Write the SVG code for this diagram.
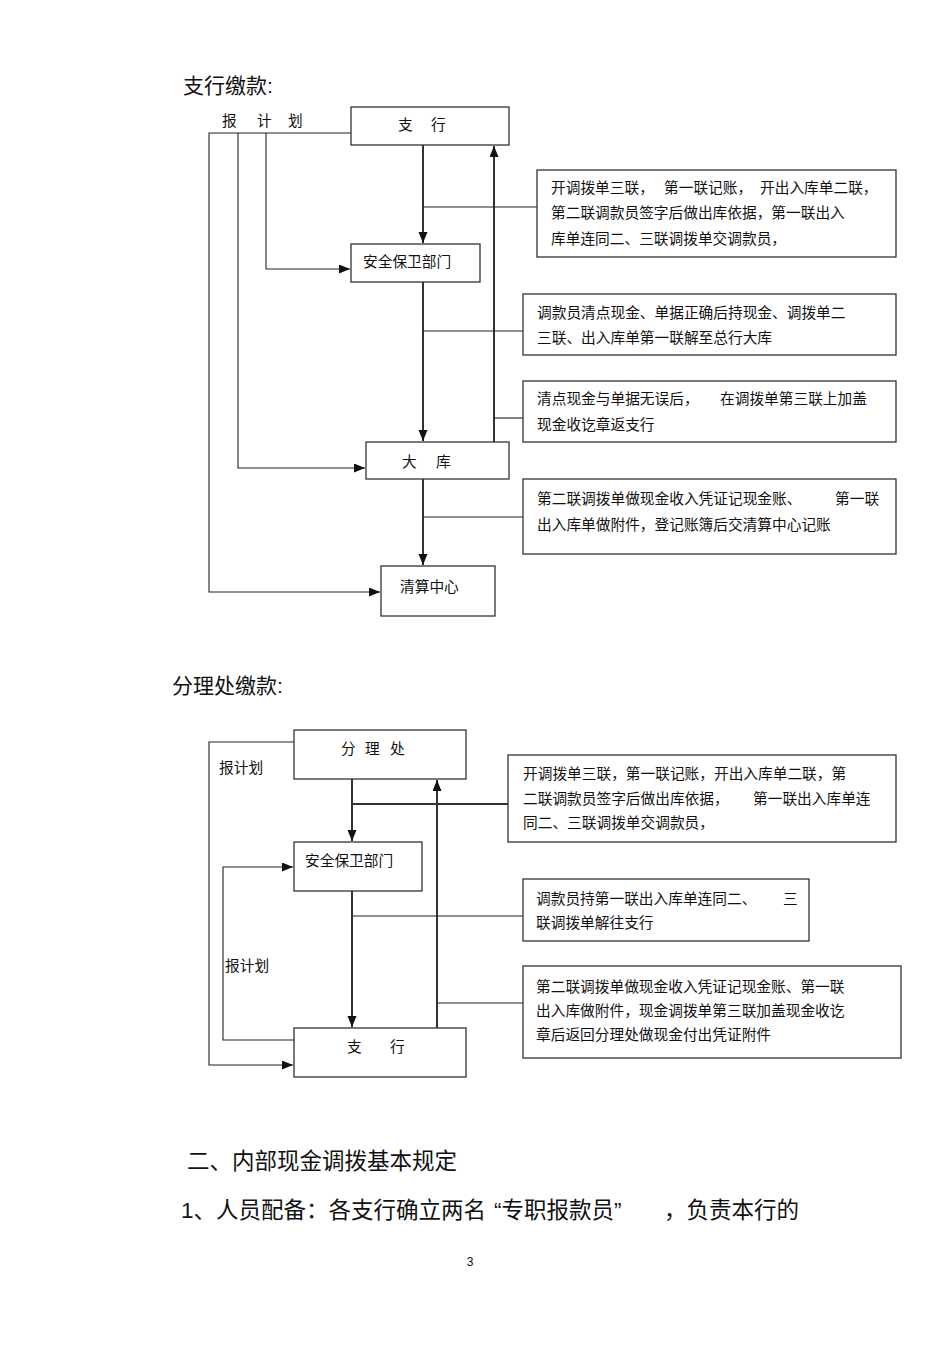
<svg xmlns="http://www.w3.org/2000/svg" width="950" height="1345" viewBox="0 0 950 1345">
<defs>
<style>
text{font-family:"Liberation Sans","Noto Sans CJK SC",sans-serif;fill:#111;}
.t{font-size:14.7px;}
.h{font-size:21px;}
.b{font-size:22.5px;}
.box{fill:#fff;stroke:#333;stroke-width:1.3;}
.thin{fill:none;stroke:#222;stroke-width:1.1;}
.thick{fill:none;stroke:#333;stroke-width:2;}
</style>
<marker id="ar" markerUnits="userSpaceOnUse" markerWidth="12" markerHeight="10" refX="11" refY="4.5" orient="auto">
<path d="M0,0 L11,4.5 L0,9 z" fill="#111"/>
</marker>
</defs>
<rect width="950" height="1345" fill="#fff"/>

<text class="h" x="183" y="93">支行缴款:</text>

<g id="connectors-top">
<path class="thin" d="M351,133 H209 V592 H380" marker-end="url(#ar)"/>
<path class="thin" d="M238,133 V468 H365" marker-end="url(#ar)"/>
<path class="thin" d="M266,133 V269 H350" marker-end="url(#ar)"/>
<path class="thick" d="M423,145 V243" marker-end="url(#ar)"/>
<path class="thick" d="M423,281 V441" marker-end="url(#ar)"/>
<path class="thick" d="M423,479 V565" marker-end="url(#ar)"/>
<path class="thick" d="M494,442 V146" marker-end="url(#ar)"/>
<path class="thin" d="M423,207 H537"/>
<path class="thin" d="M423,331 H523"/>
<path class="thin" d="M494,418 H523"/>
<path class="thin" d="M423,517 H523"/>
</g>

<g id="label-plan-top">
<text class="t" x="222" y="126">报</text>
<text class="t" x="257" y="126">计</text>
<text class="t" x="288" y="126">划</text>
</g>

<g id="node-branch-top">
<rect class="box" x="351" y="107" width="158" height="38"/>
<text class="t" x="398" y="129.5">支</text>
<text class="t" x="431" y="129.5">行</text>
</g>
<g id="node-security-top">
<rect class="box" x="351" y="244" width="129" height="38"/>
<text class="t" x="363" y="267">安全保卫部门</text>
</g>
<g id="node-vault">
<rect class="box" x="366" y="442" width="143" height="37"/>
<text class="t" x="402" y="466.5">大</text>
<text class="t" x="436" y="466.5">库</text>
</g>
<g id="node-clearing">
<rect class="box" x="381" y="566" width="114" height="50"/>
<text class="t" x="400" y="591.5">清算中心</text>
</g>

<g id="note-1">
<rect class="box" x="537" y="170" width="359" height="87"/>
<text class="t" y="192.5"><tspan x="551">开调拨单三联，</tspan><tspan x="664">第一联记账，</tspan><tspan x="760">开出入库单二联，</tspan></text>
<text class="t" x="551" y="217.5">第二联调款员签字后做出库依据，第一联出入</text>
<text class="t" x="551" y="243.5">库单连同二、三联调拨单交调款员，</text>
</g>
<g id="note-2">
<rect class="box" x="523" y="294" width="373" height="61"/>
<text class="t" x="537" y="317.5">调款员清点现金、单据正确后持现金、调拨单二</text>
<text class="t" x="537" y="342.5">三联、出入库单第一联解至总行大库</text>
</g>
<g id="note-3">
<rect class="box" x="523" y="381" width="373" height="61"/>
<text class="t" y="403.5"><tspan x="537">清点现金与单据无误后，</tspan><tspan x="720">在调拨单第三联上加盖</tspan></text>
<text class="t" x="537" y="429.5">现金收讫章返支行</text>
</g>
<g id="note-4">
<rect class="box" x="523" y="479" width="373" height="75"/>
<text class="t" y="503.5"><tspan x="537">第二联调拨单做现金收入凭证记现金账、</tspan><tspan x="835">第一联</tspan></text>
<text class="t" x="537" y="529.5">出入库单做附件，登记账簿后交清算中心记账</text>
</g>

<text class="h" x="172" y="693">分理处缴款:</text>

<g id="connectors-bottom">
<path class="thin" d="M294,742 H209 V1065 H293" marker-end="url(#ar)"/>
<path class="thin" d="M294,1040 H223 V867 H293" marker-end="url(#ar)"/>
<path class="thick" d="M352,779 V841" marker-end="url(#ar)"/>
<path class="thick" d="M352,891 V1027" marker-end="url(#ar)"/>
<path class="thick" d="M437,1028 V780" marker-end="url(#ar)"/>
<path class="thick" d="M352,804 H508"/>
<path class="thin" d="M352,916 H523"/>
<path class="thin" d="M437,1003 H523"/>
</g>

<g id="label-plan-1">
<text class="t" x="219" y="772.5">报计划</text>
</g>
<g id="label-plan-2">
<text class="t" x="225" y="971">报计划</text>
</g>

<g id="node-subbranch">
<rect class="box" x="294" y="730" width="172" height="49"/>
<text class="t" x="341" y="753.5">分</text>
<text class="t" x="365" y="753.5">理</text>
<text class="t" x="390" y="753.5">处</text>
</g>
<g id="node-security-bottom">
<rect class="box" x="294" y="842" width="128" height="49"/>
<text class="t" x="305" y="865.5">安全保卫部门</text>
</g>
<g id="node-branch-bottom">
<rect class="box" x="294" y="1028" width="172" height="49"/>
<text class="t" x="347" y="1052">支</text>
<text class="t" x="390" y="1052">行</text>
</g>

<g id="note-5">
<rect class="box" x="508" y="755" width="388" height="87"/>
<text class="t" x="523" y="778.5">开调拨单三联，第一联记账，开出入库单二联，第</text>
<text class="t" y="803.5"><tspan x="523">二联调款员签字后做出库依据，</tspan><tspan x="753">第一联出入库单连</tspan></text>
<text class="t" x="523" y="827.5">同二、三联调拨单交调款员，</text>
</g>
<g id="note-6">
<rect class="box" x="523" y="879" width="286" height="62"/>
<text class="t" y="903.5"><tspan x="536">调款员持第一联出入库单连同二、</tspan><tspan x="783">三</tspan></text>
<text class="t" x="536" y="928">联调拨单解往支行</text>
</g>
<g id="note-7">
<rect class="box" x="523" y="966" width="378" height="92"/>
<text class="t" x="536" y="991.5">第二联调拨单做现金收入凭证记现金账、第一联</text>
<text class="t" x="536" y="1016">出入库做附件，现金调拨单第三联加盖现金收讫</text>
<text class="t" x="536" y="1040">章后返回分理处做现金付出凭证附件</text>
</g>

<text class="b" x="187" y="1169">二、内部现金调拨基本规定</text>
<text class="b" x="181" y="1218">1、人员配备：各支行确立两名</text>
<text class="b" x="494" y="1218">“专职报款员”</text>
<text class="b" x="664" y="1218">，负责本行的</text>
<text x="470" y="1266" font-size="12" text-anchor="middle">3</text>
</svg>
